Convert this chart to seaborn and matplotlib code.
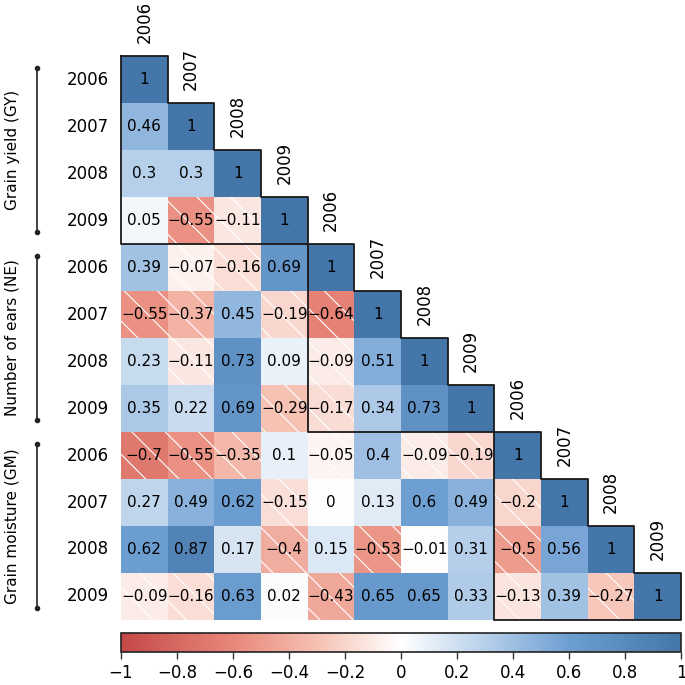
import matplotlib
matplotlib.use('Agg')
import matplotlib.pyplot as plt
from matplotlib.colors import LinearSegmentedColormap
from matplotlib.patches import Rectangle
import numpy as np
import pandas as pd
import seaborn as sns

YEARS = ['2006', '2007', '2008', '2009']
TRAITS = ['Grain yield (GY)', 'Number of ears (NE)', 'Grain moisture (GM)']

# Lower triangle of the correlation matrix, one list per row (GY, NE, GM x years).
ROW_GY_2006 = [1]
ROW_GY_2007 = [0.46, 1]
ROW_GY_2008 = [0.3, 0.3, 1]
ROW_GY_2009 = [0.05, -0.55, -0.11, 1]
ROW_NE_2006 = [0.39, -0.07, -0.16, 0.69, 1]
ROW_NE_2007 = [-0.55, -0.37, 0.45, -0.19, -0.64, 1]
ROW_NE_2008 = [0.23, -0.11, 0.73, 0.09, -0.09, 0.51, 1]
ROW_NE_2009 = [0.35, 0.22, 0.69, -0.29, -0.17, 0.34, 0.73, 1]
ROW_GM_2006 = [-0.7, -0.55, -0.35, 0.1, -0.05, 0.4, -0.09, -0.19, 1]
ROW_GM_2007 = [0.27, 0.49, 0.62, -0.15, 0, 0.13, 0.6, 0.49, -0.2, 1]
ROW_GM_2008 = [0.62, 0.87, 0.17, -0.4, 0.15, -0.53, -0.01, 0.31, -0.5, 0.56, 1]
ROW_GM_2009 = [-0.09, -0.16, 0.63, 0.02, -0.43, 0.65, 0.65, 0.33, -0.13, 0.39, -0.27, 1]

CBAR_TICKS = [-1, -0.8, -0.6, -0.4, -0.2, 0, 0.2, 0.4, 0.6, 0.8, 1]


def fmt_num(v):
    return f'{v:g}'.replace('-', '\u2212')


rows = [ROW_GY_2006, ROW_GY_2007, ROW_GY_2008, ROW_GY_2009,
        ROW_NE_2006, ROW_NE_2007, ROW_NE_2008, ROW_NE_2009,
        ROW_GM_2006, ROW_GM_2007, ROW_GM_2008, ROW_GM_2009]
n = len(rows)
labels = YEARS * len(TRAITS)

mat = np.full((n, n), np.nan)
for i, r in enumerate(rows):
    mat[i, :len(r)] = r
df = pd.DataFrame(mat, index=labels, columns=labels)
mask = np.triu(np.ones((n, n), dtype=bool), k=1)
annot = np.where(mask, '', np.vectorize(lambda v: '' if np.isnan(v) else fmt_num(v))(mat))

cmap = LinearSegmentedColormap.from_list('corr', [
    (0.0, '#c54848'), (0.2, '#e8887a'), (0.35, '#f5c1b3'), (0.5, '#ffffff'),
    (0.65, '#b7d0ea'), (0.8, '#6e9fd2'), (1.0, '#4576aa')])

plt.rcParams['hatch.color'] = 'white'
plt.rcParams['hatch.linewidth'] = 0.8

fig = plt.figure(figsize=(6.85, 6.85), dpi=100)
ax = fig.add_axes([0.1766, 0.0949, 0.8176, 0.8233])
cax = fig.add_axes([0.1766, 0.0482, 0.8176, 0.0277])

sns.heatmap(df, mask=mask, cmap=cmap, vmin=-1, vmax=1, annot=annot, fmt='',
            annot_kws={'color': 'black', 'fontsize': 11}, ax=ax, cbar_ax=cax,
            cbar_kws={'orientation': 'horizontal', 'ticks': CBAR_TICKS})

# hatch the negative correlations
for i in range(n):
    for j in range(i + 1):
        if mat[i, j] < 0:
            ax.add_patch(Rectangle((j, i), 1, 1, fill=False, hatch='\\',
                                   edgecolor='white', linewidth=0))

# outline each trait block (triangle)
for k in range(len(TRAITS)):
    s = 4 * k
    xs, ys = [s], [s]
    for step in range(4):
        xs += [s + step + 1, s + step + 1]
        ys += [s + step, s + step + 1]
    xs += [s, s]
    ys += [s + 4, s]
    ax.plot(xs, ys, color='#1a1a1a', lw=1.3, clip_on=False, zorder=5)

# column labels along the diagonal
for j, lab in enumerate(labels):
    ax.text(j + 0.5, j - 0.28, lab, rotation=90, ha='center', va='bottom', fontsize=12)

# trait brackets on the left
for k, trait in enumerate(TRAITS):
    s = 4 * k
    ax.plot([-1.8, -1.8], [s + 0.25, s + 3.75], color='#222222', lw=1.2,
            marker='o', ms=3, clip_on=False)
    ax.text(-2.33, s + 2, trait, rotation=90, ha='center', va='center', fontsize=11)

ax.set_xticks([])
ax.set_yticklabels(labels, rotation=0, fontsize=12)
ax.tick_params(axis='y', length=0, pad=9)
ax.set_xlabel('')
ax.set_ylabel('')

cb = ax.collections[0].colorbar
cb.outline.set_linewidth(1.2)
cb.outline.set_edgecolor('#222222')
cax.set_xticks(CBAR_TICKS)
cax.set_xticklabels([fmt_num(t) for t in CBAR_TICKS], fontsize=12)
cax.tick_params(axis='x', length=5, width=1, color='#333333')

fig.savefig('out.png', dpi=100)
